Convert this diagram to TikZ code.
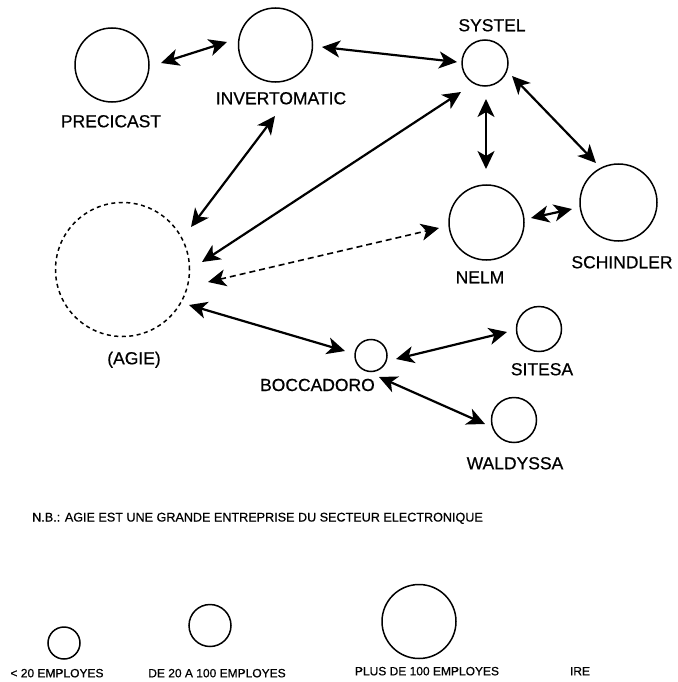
\documentclass[tikz,border=0pt]{standalone}
\usepackage{fontspec}
\setmainfont[FakeBold=0.6]{Liberation Sans}
\usetikzlibrary{arrows.meta,calc}
\begin{document}
\begin{tikzpicture}[x=1pt,y=-1pt,
  firm/.style={circle,draw,line width=1.5pt,inner sep=0pt},
  lab/.style={font=\fontsize{17.5}{18}\selectfont,inner sep=0pt,anchor=base},
  leg/.style={font=\fontsize{12}{12}\selectfont,inner sep=0pt,anchor=base},
  arr/.style={line width=2.2pt,{Stealth[length=18pt,width=17pt,inset=5pt]}-{Stealth[length=18pt,width=17pt,inset=5pt]}},
  darr/.style={line width=1.6pt,dash pattern=on 6pt off 4pt,{Stealth[length=18pt,width=17pt,inset=5pt]}-{Stealth[length=18pt,width=17pt,inset=5pt]}}]
\useasboundingbox (0,0) rectangle (677,682);
% firms
\node[firm,minimum size=74pt] (prec) at (112,65) {};
\node[firm,minimum size=74pt] (inv) at (275.5,45) {};
\node[firm,minimum size=46pt] (sys) at (485,63) {};
\node[firm,minimum size=75pt] (nelm) at (486.5,222.5) {};
\node[firm,minimum size=77pt] (sch) at (618.5,202.5) {};
\node[circle,draw,line width=1.5pt,dash pattern=on 4pt off 3.5pt,inner sep=0pt,minimum size=134pt] (agie) at (122.5,269.5) {};
\node[firm,minimum size=32pt] (bocc) at (371,355.5) {};
\node[firm,minimum size=45pt] (sit) at (539,329) {};
\node[firm,minimum size=45pt] (wal) at (514,420) {};
% labels
\node[lab] (precl) at (111,127.3) {PRECICAST};
\node[lab] (invl) at (281,104.3) {INVERTOMATIC};
\node[lab] (sysl) at (492,31.3) {SYSTEL};
\node[lab] (neml) at (480,283.3) {NELM};
\node[lab] (schl) at (622,268.3) {SCHINDLER};
\node[lab] (agiel) at (134,364.3) {(AGIE)};
\node[lab,anchor=base east] (boccl) at (375,391) {BOCCADORO};
\node[lab] (sitl) at (542,375.3) {SITESA};
\node[lab] (wall) at (515,469.3) {WALDYSSA};
% connectors
\draw[arr] ($(prec)+(49,-2)$) -- ($(inv)+(-48.5,-3)$);
\draw[arr] ($(inv)+(46.5,2)$) -- ($(sys)+(-28,-1)$);
\draw[arr] ($(agie)+(68.5,-42.5)$) -- ($(inv)+(-0.5,71)$);
\draw[arr] ($(agie)+(79.5,-7.5)$) -- ($(sys)+(-24,29)$);
\draw[darr] ($(agie)+(85.5,12.5)$) -- ($(nelm)+(-47.5,5.5)$);
\draw[arr] ($(sys)+(1,36)$) -- ($(nelm)+(-0.5,-53.5)$);
\draw[arr] ($(sys)+(27,13)$) -- ($(sch)+(-22.5,-39.5)$);
\draw[arr] ($(nelm)+(44.5,-4.5)$) -- ($(sch)+(-46.5,6.5)$);
\draw[arr] ($(agie)+(66.5,35.5)$) -- ($(bocc)+(-26,-4.5)$);
\draw[arr] ($(bocc)+(25,3.5)$) -- ($(sit)+(-32,3)$);
\draw[arr] ($(bocc)+(8,21.5)$) -- ($(wal)+(-29,4)$);
% note
\node[leg,anchor=base west,font=\fontsize{12.6}{13}\selectfont] (nb) at (32,521.5) {N.B.: AGIE EST UNE GRANDE ENTREPRISE DU SECTEUR ELECTRONIQUE};
% legend
\node[firm,minimum size=32pt] (small) at (64,643) {};
\node[firm,minimum size=42pt] (medium) at (210,625.5) {};
\node[firm,minimum size=74pt] (large) at (419,621.5) {};
\node[leg] (smalll) at (57,677.3) {< 20 EMPLOYES};
\node[leg] (mediuml) at (217,677.3) {DE 20 A 100 EMPLOYES};
\node[leg] (largel) at (427,675.3) {PLUS DE 100 EMPLOYES};
\node[leg] (irel) at (580,675.3) {IRE};
\end{tikzpicture}
\end{document}
